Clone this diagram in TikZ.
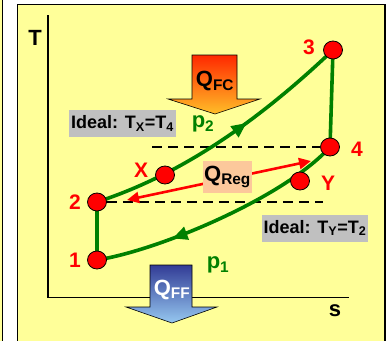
\documentclass[tikz,border=0pt]{standalone}
\usepackage{fontspec}
\setmainfont{Liberation Sans}
\usetikzlibrary{arrows.meta,decorations.markings,shapes.geometric}
\definecolor{panel}{RGB}{255,255,153}
\definecolor{grn}{RGB}{0,128,0}
\definecolor{peach}{RGB}{252,200,155}
\definecolor{idealgray}{RGB}{192,192,192}
\definecolor{fcdark}{RGB}{255,40,0}
\definecolor{fclight}{RGB}{255,190,40}
\definecolor{ffdark}{RGB}{50,60,150}
\definecolor{fflight}{RGB}{150,200,240}
\pgfdeclarelayer{bg}
\pgfsetlayers{bg,main}
\begin{document}
\begin{tikzpicture}[x=1pt,y=-1pt,
  font=\bfseries\fontsize{21}{24}\selectfont,
  big/.style={font=\bfseries\fontsize{22}{26}\selectfont},
  pt/.style={ellipse,fill=red,draw=black,line width=0.8pt,minimum width=19pt,minimum height=18pt,inner sep=0pt},
  num/.style={text=red,inner sep=0pt},
  axis/.style={line width=1.8pt,black},
  cycle/.style={grn,line width=3.6pt},
  midarrow/.style={postaction={decorate},decoration={markings,
     mark=at position #1 with {\arrow{Triangle[length=15pt,width=13pt]}}}},
  dashline/.style={line width=1.8pt,dash pattern=on 10pt off 6pt},
  ideal/.style={fill=idealgray,inner xsep=2pt,inner ysep=0pt,minimum height=27pt,font=\bfseries\fontsize{18}{22}\selectfont},
  regarrow/.style={red,line width=2.6pt,{Triangle[length=12pt,width=11pt]}-{Triangle[length=12pt,width=11pt]}},
  heat/.style={draw=black,line width=0.6pt,shading angle=-45}
]
\useasboundingbox (0,0) rectangle (387,340);

% points
\node[pt] (p1) at (97,260) {};
\node[pt] (p2) at (97,202) {};
\node[pt] (p3) at (333,50) {};
\node[pt] (p4) at (330,147) {};
\node[pt] (px) at (165,175) {};
\node[pt] (py) at (300,181) {};

\node[num] (l1) at (75,260) {1};
\node[num] (l2) at (75,202) {2};
\node[num] (l3) at (309,47) {3};
\node[num] (l4) at (357,149) {4};
\node[num] (lx) at (141,170) {X};
\node[num] (ly) at (328,183) {Y};

% axis labels
\node[big,inner sep=0pt] (tlab) at (35,38) {T};
\node[big,inner sep=0pt] (slab) at (335,311) {s};

\coordinate (ytop) at (48,15);
\coordinate (orig) at (48,297.5);
\coordinate (xend) at (349,297.5);
\coordinate (dashA) at (152,147);
\coordinate (dashB) at (323,202);
\coordinate (ra) at (127,200);
\coordinate (rb) at (311,161);

\begin{pgfonlayer}{bg}
  \fill[panel] (-5,-5) rectangle (2.7,345);
  \draw[line width=1pt] (2.7,-5) -- (2.7,345);
  \filldraw[fill=panel,draw=black,line width=1.2pt] (17.5,4.5) rectangle (385,350);
  \draw[axis] (ytop) -- (orig) -- (xend);
  \draw[dashline] (dashA) -- (p4);
  \draw[dashline] (p2) -- (dashB);
  \draw[cycle] (p1.center) -- (p2.center);
  \draw[cycle] (p3.center) -- (p4.center);
  \draw[cycle,midarrow=0.6] (p2.center) .. controls (177,176) and (253,126) .. (p3.center);
  \draw[cycle,midarrow=0.7] (p4.center) .. controls (285,197) and (160,250) .. (p1.center);
  \draw[regarrow] (rb) -- (ra);
\end{pgfonlayer}

% Q_Reg box
\node[big,fill=peach,minimum width=49pt,minimum height=32pt,inner sep=0pt] (qreg) at (227.5,177) {Q\textsubscript{Reg}};

% Ideal boxes
\node[ideal,minimum width=105pt] (idealX) at (122.5,123.5) {Ideal: T\textsubscript{X}=T\textsubscript{4}};
\node[ideal,minimum width=106pt] (idealY) at (315,228) {Ideal: T\textsubscript{Y}=T\textsubscript{2}};

% pressures
\node[big,text=grn,inner sep=0pt] (pp2) at (203,124) {p\textsubscript{2}};
\node[big,text=grn,inner sep=0pt] (pp1) at (218,265) {p\textsubscript{1}};

% heat arrows
\shadedraw[heat,top color=fcdark,bottom color=fclight]
  (192,55) -- (237,55) -- (237,99) -- (260,99) -- (215,114) -- (168,99) -- (192,99) -- cycle;
\node[big,inner sep=0pt] (qfc) at (215,81) {Q\textsubscript{FC}};
\shadedraw[heat,top color=ffdark,bottom color=fflight]
  (150,265) -- (192,265) -- (192,307) -- (217,307) -- (172,323) -- (126,307) -- (150,307) -- cycle;
\node[big,inner sep=0pt,text=white] (qff) at (172,290) {Q\textsubscript{FF}};
\end{tikzpicture}
\end{document}
